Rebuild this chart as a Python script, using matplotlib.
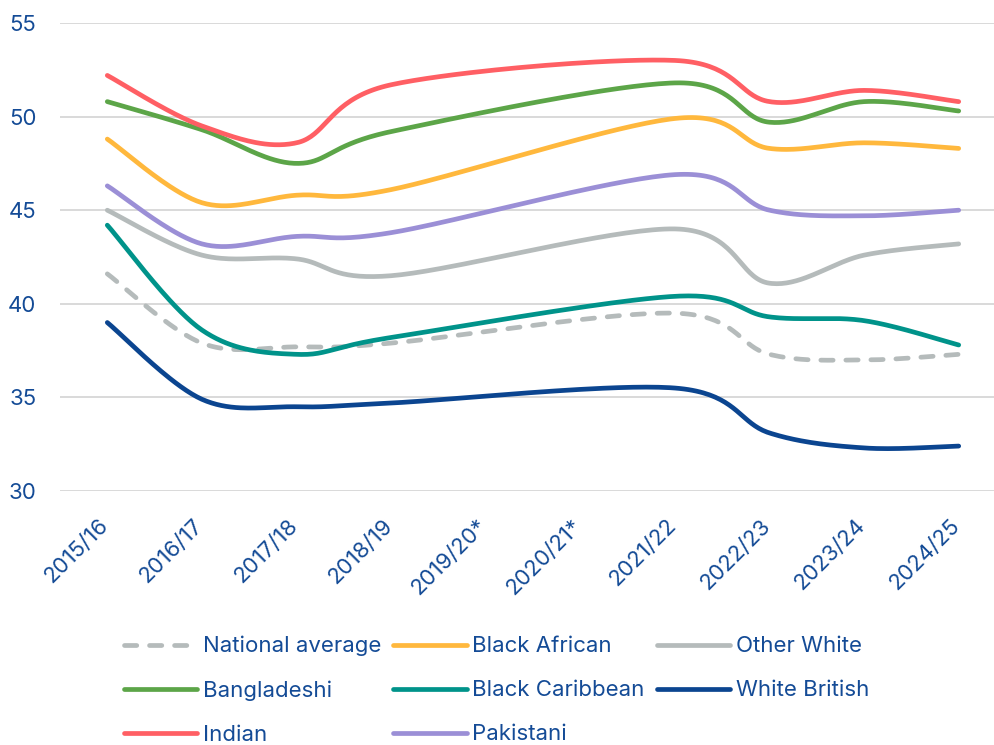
import numpy as np
import matplotlib
matplotlib.use("Agg")
import matplotlib.pyplot as plt
import matplotlib.transforms as mtransforms
from matplotlib.lines import Line2D

years = ["2015/16", "2016/17", "2017/18", "2018/19", "2019/20*", "2020/21*",
         "2021/22", "2022/23", "2023/24", "2024/25"]

# No results published for the two asterisked years; lines run across the gap.
national_average = [41.6, 37.9, 37.7, 37.9, None, None, 39.5, 37.3, 37.0, 37.3]
bangladeshi      = [50.8, 49.3, 47.5, 49.2, None, None, 51.8, 49.7, 50.8, 50.3]
indian           = [52.2, 49.5, 48.6, 51.7, None, None, 53.0, 50.8, 51.4, 50.8]
black_african    = [48.8, 45.4, 45.8, 46.1, None, None, 49.9, 48.3, 48.6, 48.3]
black_caribbean  = [44.2, 38.6, 37.3, 38.2, None, None, 40.4, 39.3, 39.1, 37.8]
pakistani        = [46.3, 43.2, 43.6, 43.8, None, None, 46.9, 45.0, 44.7, 45.0]
other_white      = [45.0, 42.6, 42.4, 41.5, None, None, 44.0, 41.1, 42.6, 43.2]
white_british    = [39.0, 34.9, 34.5, 34.7, None, None, 35.5, 33.1, 32.3, 32.4]

TEXT = "#144b96"
series = [
    ("National average", national_average, "#b5bbbb", "dash"),
    ("Bangladeshi", bangladeshi, "#5ca548", "solid"),
    ("Indian", indian, "#ff5f64", "solid"),
    ("Black African", black_african, "#ffb83d", "solid"),
    ("Black Caribbean", black_caribbean, "#00938a", "solid"),
    ("Pakistani", pakistani, "#9b8fd6", "solid"),
    ("Other White", other_white, "#b5bbbb", "solid"),
    ("White British", white_british, "#0b4590", "solid"),
]


def smooth(values, n=40):
    """Bezier smoothing through the available points (spreadsheet-style)."""
    pts = [(i, v) for i, v in enumerate(values) if v is not None]
    P = np.array(pts, dtype=float)
    xs, ys = [], []
    m = len(P)
    for i in range(m - 1):
        p0 = P[i - 1] if i > 0 else P[i]
        p1 = P[i]
        p2 = P[i + 1]
        p3 = P[i + 2] if i + 2 < m else P[i + 1]
        c1 = p1 + (p2 - p0) / 6.0
        c2 = p2 - (p3 - p1) / 6.0
        t = np.linspace(0, 1, n)[:, None]
        seg = ((1 - t) ** 3) * p1 + 3 * ((1 - t) ** 2) * t * c1 \
            + 3 * (1 - t) * t ** 2 * c2 + t ** 3 * p2
        if i > 0:
            seg = seg[1:]
        xs.append(seg[:, 0])
        ys.append(seg[:, 1])
    return np.concatenate(xs), np.concatenate(ys)


plt.rcParams["font.family"] = ["Inter", "DejaVu Sans"]

fig = plt.figure(figsize=(9.95, 7.45), dpi=100)
ax = fig.add_axes([60 / 995, 1 - 491 / 745, (1006 - 60) / 995, (491 - 23) / 745])

lw = 3.4
DASH = (2.6, 2.7)
handles = {}
for name, vals, color, style in series:
    x, y = smooth(vals)
    if style == "dash":
        line, = ax.plot(x, y, color=color, lw=lw, dashes=DASH,
                        dash_capstyle="round", solid_capstyle="round", zorder=2)
    else:
        line, = ax.plot(x, y, color=color, lw=lw, solid_capstyle="round", zorder=3)
    handles[name] = line

ax.set_xlim(-0.5, 9.5)
ax.set_ylim(30, 55)
ax.set_yticks(np.arange(30, 56, 5))
ax.set_xticks(range(len(years)))
ax.set_xticklabels(years, rotation=45, ha="right", rotation_mode="anchor")
ax.tick_params(axis="both", length=0, labelsize=16, colors=TEXT)
ax.tick_params(axis="x", pad=11)
ax.tick_params(axis="y", pad=17)
ax.grid(axis="y", color="#d9d9d9", lw=1.4)
ax.set_axisbelow(True)
for s in ax.spines.values():
    s.set_visible(False)

shift = mtransforms.ScaledTranslation(-9 / 100, -9 / 100, fig.dpi_scale_trans)
for lab in ax.get_xticklabels():
    lab.set_transform(lab.get_transform() + shift)

# legend handles in column-major order for three columns
order = ["National average", "Bangladeshi", "Indian",
         "Black African", "Black Caribbean", "Pakistani",
         "Other White", "White British"]
leg_handles = []
for name in order:
    h = handles[name]
    if name == "National average":
        lh = Line2D([], [], color=h.get_color(), lw=lw, dashes=DASH,
                    dash_capstyle="round")
    else:
        lh = Line2D([], [], color=h.get_color(), lw=lw, solid_capstyle="round")
    leg_handles.append(lh)

leg = fig.legend(leg_handles, order, ncol=3, loc="upper left",
                 bbox_to_anchor=(115 / 995, 1 - 627 / 745), frameon=False,
                 fontsize=16, handlelength=3.3, handletextpad=0.25,
                 columnspacing=0.55, labelspacing=1.08, borderaxespad=0)
for t in leg.get_texts():
    t.set_color(TEXT)

fig.savefig("out.png", dpi=100)
